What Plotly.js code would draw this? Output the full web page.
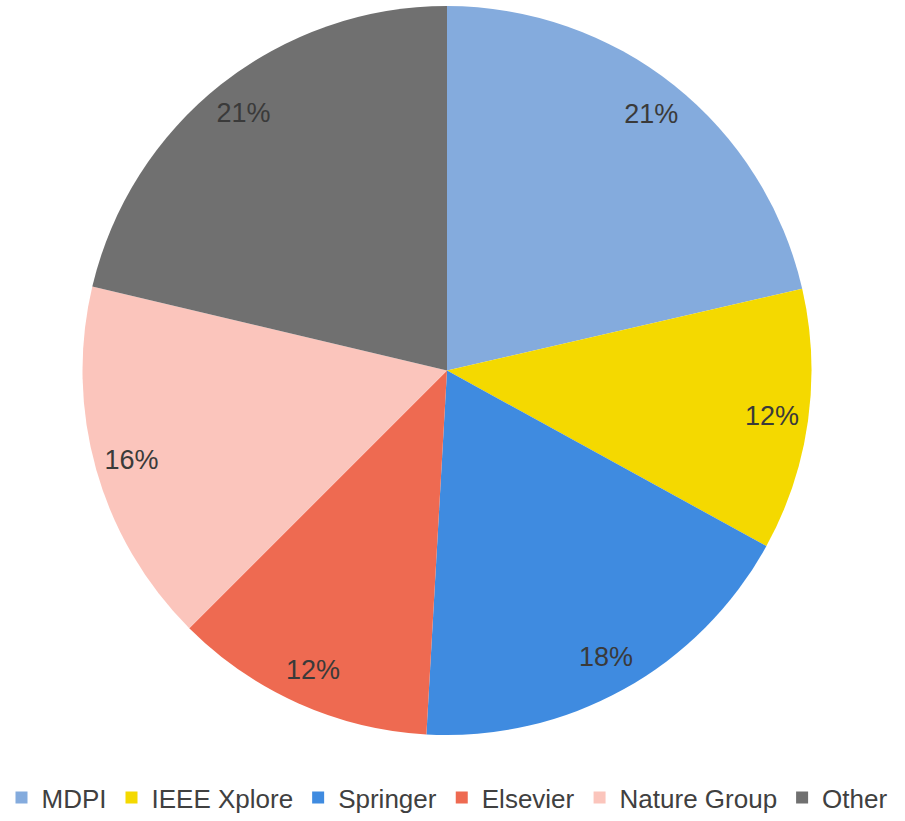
<!DOCTYPE html>
<html>
<head>
<meta charset="utf-8">
<script src="https://cdn.plot.ly/plotly-3.0.1.min.js"></script>
<style>
  html, body { margin: 0; padding: 0; background: #fff; }
  #pie_plot { width: 905px; height: 821px; }
</style>
</head>
<body>
<div id="pie_plot"></div>
<script>
var publishers = ['MDPI', 'IEEE Xplore', 'Springer', 'Elsevier', 'Nature Group', 'Other'];
var shares = [21.4, 11.6, 17.9, 11.6, 16.2, 21.3];
var colours = ['#84abdd', '#f4d900', '#3f8be0', '#ee6a51', '#fbc5bc', '#707070'];

// filled slices + legend
var slices = {
	type: 'pie',
	labels: publishers,
	values: shares,
	sort: false,
	direction: 'clockwise',
	rotation: 0,
	marker: { colors: colours, line: { width: 0 } },
	textinfo: 'none',
	hoverinfo: 'label+percent',
	showlegend: true
};

// transparent ring on top, only to put the percent labels near the rim
var ring = {
	type: 'pie',
	labels: publishers,
	values: shares,
	sort: false,
	direction: 'clockwise',
	rotation: 0,
	hole: 0.8,
	marker: { colors: publishers.map(function () { return 'rgba(0,0,0,0)'; }), line: { width: 0 } },
	texttemplate: '%{percent:.0%}',
	textposition: 'inside',
	insidetextorientation: 'horizontal',
	insidetextfont: { size: 27, color: '#3a3a3a', family: 'Liberation Sans, Arial, sans-serif' },
	hoverinfo: 'skip',
	showlegend: false
};

var layout = {
	width: 905,
	height: 821,
	margin: { l: 0, r: 11, t: 6, b: 84 },
	paper_bgcolor: '#ffffff',
	font: { family: 'Liberation Sans, Arial, sans-serif', color: '#404040' },
	showlegend: true,
	legend: {
		orientation: 'h',
		x: 0.5,
		xanchor: 'center',
		y: -0.086,
		yanchor: 'middle',
		font: { size: 26, color: '#404040' },
		itemwidth: 30,
		traceorder: 'normal'
	}
};

Plotly.newPlot('pie_plot', [slices, ring], layout, { displayModeBar: false });
</script>
</body>
</html>
